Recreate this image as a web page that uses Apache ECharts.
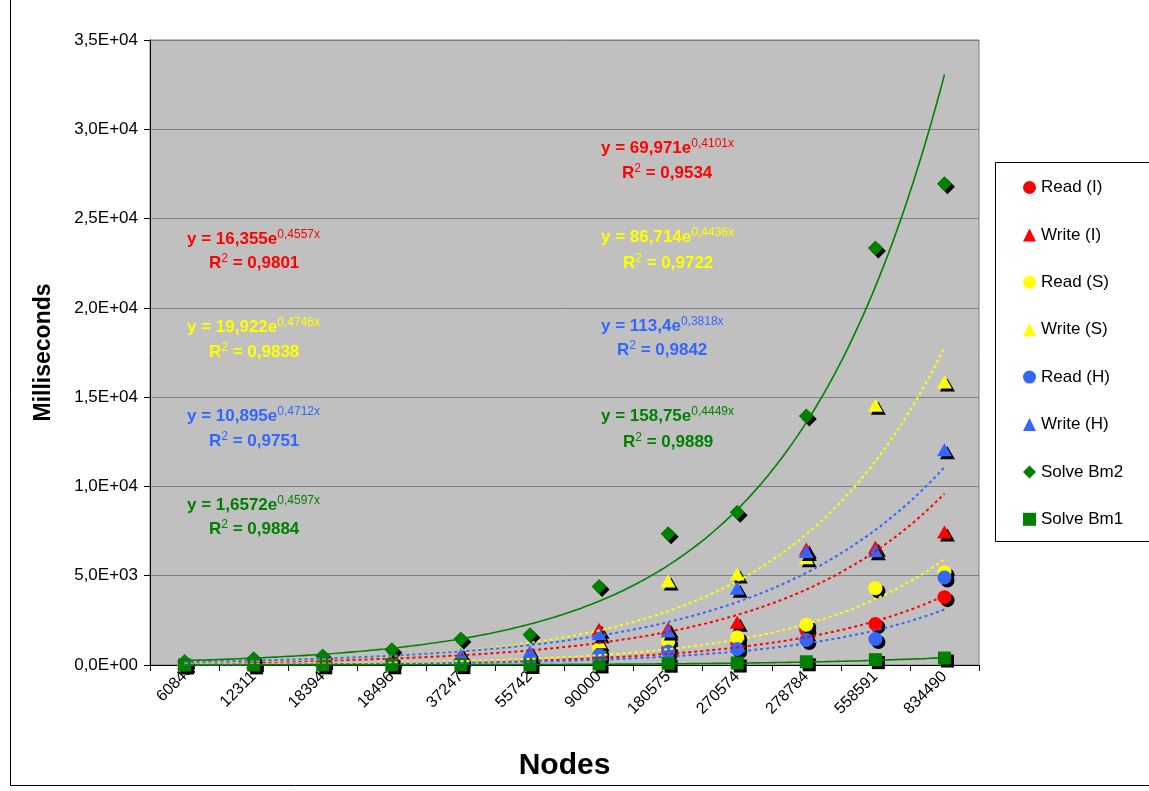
<!DOCTYPE html>
<html><head><meta charset="utf-8">
<script src="https://cdn.jsdelivr.net/npm/echarts@6/dist/echarts.min.js"></script>
<style>html,body{margin:0;padding:0;background:#fff}#c{width:1149px;height:791px}</style>
</head><body><div id="c"></div>
<script>
// ---- data ----
const categories = ['6084','12311','18394','18496','37247','55742','90000','180575','270574','278784','558591','834490'];
const yTickLabels = ['0,0E+00','5,0E+03','1,0E+04','1,5E+04','2,0E+04','2,5E+04','3,0E+04','3,5E+04'];
const seriesNames = ['Read (I)','Write (I)','Read (S)','Write (S)','Read (H)','Write (H)','Solve Bm2','Solve Bm1'];
const readI   = [30, 50, 80, 120, 200, 280, 500, 900, 1200, 1950, 2300, 3800];
const writeI  = [100, 150, 250, 350, 450, 600, 2000, 2050, 2400, 6500, 6600, 7450];
const readS   = [30, 60, 90, 150, 250, 350, 750, 1300, 1550, 2250, 4300, 5200];
const writeS  = [120, 200, 300, 450, 650, 700, 1300, 4700, 5100, 6000, 14550, 15850];
const readH   = [20, 40, 60, 100, 150, 250, 550, 750, 900, 1400, 1450, 4900];
const writeH  = [110, 180, 280, 420, 600, 750, 1750, 1900, 4300, 6350, 6400, 12050];
const solveBm2 = [200, 350, 500, 850, 1450, 1700, 4400, 7350, 8550, 13950, 23350, 26950];
const solveBm1 = [3, 5, 8, 12, 20, 30, 60, 100, 110, 180, 300, 390];
// exponential trendlines y = a * e^(b x), x = category number 1..12 (as printed on the chart)
const trendA  = [16.355, 69.971, 19.922, 86.714, 10.895, 113.4, 158.75, 1.6572];
const trendB  = [0.4557, 0.4101, 0.4746, 0.4436, 0.4712, 0.3818, 0.4449, 0.4597];
const trendR2 = [0.9801, 0.9534, 0.9838, 0.9722, 0.9751, 0.9842, 0.9889, 0.9884];

// ---- styles / layout ----
const values = [readI, writeI, readS, writeS, readH, writeH, solveBm2, solveBm1];
const colors = ['#FF0000','#FF0000','#FFFF00','#FFFF00','#3366FF','#3366FF','#008000','#008000'];
const symbols = ['circle','triangle','circle','triangle','circle','triangle','diamond','rect'];
const symSizes = [14,[15,13],14,[15,13],14,[15,13],[15,15],13];
const trendDash = [[3,3],[3,3],[3,3],[3,3],[3,3],[3,3],'solid','solid'];
const trendColors = ['#FF0000','#FF0000','#FFFF00','#FFFF00','#3366FF','#3366FF','#008000','#008000'];
// equation label positions [x, yEq, xR2, yR2]
const eqPos = [
  [187,239,209,263],[601,148,622,173],
  [187,327,209,352],[601,237,623,263],
  [187,416,209,441],[601,326,617,350],
  [601,416,623,442],[187,505,209,529]
];
const FONT = 'Liberation Sans, Arial, sans-serif';
const fmt = v => String(v).replace('.', ',');

const series = [];
values.forEach((vals, i) => {
  series.push({
    name: seriesNames[i], type: 'scatter', xAxisIndex: 0, yAxisIndex: 0,
    symbol: symbols[i], symbolSize: symSizes[i], data: vals, z: 2,
    itemStyle: {color: colors[i], opacity: 1, shadowColor: '#000', shadowBlur: 0, shadowOffsetX: 3, shadowOffsetY: 3},
    emphasis: {disabled: true}
  });
});
trendA.forEach((a, i) => {
  const pts = [];
  for (let k = 0; k <= 220; k++) { const x = 1 + k * 11 / 220; pts.push([x, a * Math.exp(trendB[i] * x)]); }
  series.push({
    name: 'trend' + i, type: 'line', xAxisIndex: 1, yAxisIndex: 0, data: pts,
    showSymbol: false, symbol: 'none', smooth: false, z: 3, silent: true,
    lineStyle: {color: trendColors[i], width: i >= 6 ? 1.6 : 2, type: trendDash[i]}
  });
});

const graphics = [
  {type: 'rect', shape: {x: 10.5, y: -2, width: 1200, height: 787.5}, style: {fill: 'none', stroke: '#000', lineWidth: 1}, z: 0},
  {type: 'rect', shape: {x: 995.5, y: 162.5, width: 200, height: 379}, style: {fill: '#fff', stroke: '#000', lineWidth: 1}, z: 1}
];
trendA.forEach((a, i) => {
  const p = eqPos[i];
  const rich = {
    m: {fontSize: 17, fontWeight: 'bold', fontFamily: FONT, fill: colors[i], lineHeight: 20},
    s: {fontSize: 12, fontFamily: FONT, fill: colors[i], verticalAlign: 'top', lineHeight: 12, padding: [0,0,8,0]}
  };
  graphics.push({
    type: 'text', x: p[0], y: p[1], z: 10,
    style: {text: '{m|y = ' + fmt(a) + 'e}{s|' + fmt(trendB[i]) + 'x}', fill: colors[i], align: 'left', verticalAlign: 'middle', rich: rich}
  });
  graphics.push({
    type: 'text', x: p[2], y: p[3], z: 10,
    style: {text: '{m|R}{s|2}{m| = ' + fmt(trendR2[i]) + '}', fill: colors[i], align: 'left', verticalAlign: 'middle', rich: rich}
  });
});

const chart = echarts.init(document.getElementById('c'), null, {renderer: 'canvas'});
chart.setOption({
  animation: false,
  backgroundColor: '#fff',
  textStyle: {fontFamily: FONT},
  grid: {left: 150, top: 40, right: 170, bottom: 126, show: true, backgroundColor: '#C0C0C0', borderColor: '#808080', borderWidth: 1},
  xAxis: [{
    type: 'category', data: categories, boundaryGap: true,
    name: 'Nodes', nameLocation: 'middle', nameGap: 86,
    nameTextStyle: {fontSize: 30, fontWeight: 'bold', color: '#000', fontFamily: FONT},
    axisLine: {lineStyle: {color: '#000', width: 1}},
    axisTick: {show: true, length: 6, lineStyle: {color: '#000'}},
    axisLabel: {rotate: 45, fontSize: 16, color: '#000', margin: 9, fontFamily: FONT},
    splitLine: {show: false}
  }, {
    type: 'value', min: 0.5, max: 12.5, show: false
  }],
  yAxis: {
    type: 'value', min: 0, max: 35000, interval: 5000,
    name: 'Milliseconds', nameLocation: 'middle', nameGap: 95, nameRotate: 90,
    nameTextStyle: {fontSize: 23, fontWeight: 'bold', color: '#000', fontFamily: FONT},
    axisLine: {show: true, lineStyle: {color: '#000', width: 1}},
    axisTick: {show: true, length: 6, lineStyle: {color: '#000'}},
    axisLabel: {fontSize: 17, color: '#000', margin: 12, fontFamily: FONT,
      formatter: v => yTickLabels[Math.round(v / 5000)]},
    splitLine: {show: true, lineStyle: {color: '#808080', width: 1}}
  },
  legend: {
    data: seriesNames, orient: 'vertical', left: 1018, top: 174,
    itemWidth: 13, itemHeight: 13, itemGap: 30.4, selectedMode: false,
    textStyle: {fontSize: 17, color: '#000', fontFamily: FONT, padding: [0,0,0,0]},
    itemStyle: {shadowColor: 'rgba(0,0,0,0)', shadowBlur: 0, shadowOffsetX: 0, shadowOffsetY: 0}
  },
  graphic: graphics,
  series: series
});
</script>
</body></html>
